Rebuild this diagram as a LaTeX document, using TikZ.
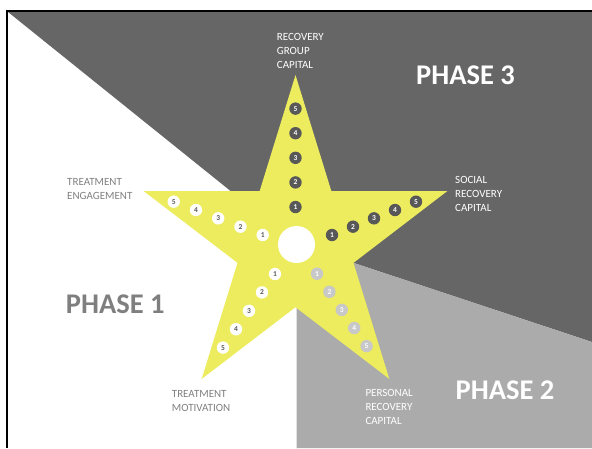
\documentclass[tikz,border=0pt]{standalone}
\usepackage{fontspec}
\setmainfont{Carlito}
\definecolor{phasedark}{RGB}{102,102,102}
\definecolor{phaselight}{RGB}{171,171,171}
\definecolor{staryellow}{RGB}{236,236,94}
\definecolor{dotdark}{RGB}{88,88,88}
\definecolor{dotlight}{RGB}{200,200,200}
\definecolor{textgray}{RGB}{127,127,127}
\definecolor{numgray}{RGB}{89,89,89}

\begin{document}
\begin{tikzpicture}[
    x = 1pt,
    y = -1pt,
    dot/.style = {circle, inner sep=0pt, minimum size=12.4pt,
      font=\fontsize{7.5}{7.5}\selectfont\bfseries},
    whitedot/.style = {dot, fill=white, text=numgray},
    darkdot/.style = {dot, fill=dotdark, text=white},
    lightdot/.style = {dot, fill=dotlight, text=white},
    armtext/.style = {anchor=base west, align=left, inner sep=0pt,
      font=\fontsize{11}{14}\selectfont},
    phasetext/.style = {anchor=base west, inner sep=0pt,
      font=\fontsize{28.5}{28.5}\selectfont\bfseries},
    ]
    \useasboundingbox (0,0) rectangle (592,448);
    % phase areas
    \coordinate (mid) at (296.5,244);
    \fill[phasedark] (8,12) -- (592,12) -- (592,342) -- (mid) -- cycle;
    \fill[phaselight] (mid) -- (592,342) -- (592,448) -- (296.5,448) -- cycle;
    % frame
    \draw[line width=2pt] (7,448) -- (7,11) -- (592,11);
    % star
    \fill[staryellow] (295.5,75)
    \foreach \a/\r in {126/64.2, 162/168, 198/64.2, 234/168, 270/64.2,
      306/168, 342/64.2, 18/168, 54/64.2}
    { -- ({295.5+0.95*\r*cos(\a)}, {243-\r*sin(\a)}) } -- cycle;
    \node[circle, fill=white, minimum size=37pt, inner sep=0pt] (hub)
    at (296.5,244.5) {};
    % numbered dots
    \foreach \n in {1,...,5}
    \node[darkdot] (group\n) at (295.5, {207-24.6*(\n-1)}) {\n};
    \foreach \n in {1,...,5}
    \node[darkdot] (social\n) at ({332+21*(\n-1)}, {235-8.33*(\n-1)}) {\n};
    \foreach \n in {1,...,5}
    \node[whitedot] (engage\n) at ({262.7-22.25*(\n-1)}, {235-8.33*(\n-1)}) {\n};
    \foreach \n in {1,...,5}
    \node[whitedot] (motive\n) at ({275-13*(\n-1)}, {274+18.4*(\n-1)}) {\n};
    \foreach \n in {1,...,5}
    \node[lightdot] (personal\n) at ({317+12.4*(\n-1)}, {273.7+18.1*(\n-1)}) {\n};
    % arm labels (base = last line)
    \node[armtext, text=white] (grouptxt) at (276.7,68)
    {RECOVERY\\GROUP\\CAPITAL};
    \node[armtext, text=white] (socialtxt) at (455,211.3)
    {SOCIAL\\RECOVERY\\CAPITAL};
    \node[armtext, text=textgray] (engagetxt) at (67,199)
    {TREATMENT\\ENGAGEMENT};
    \node[armtext, text=textgray] (motivetxt) at (171.7,411.7)
    {TREATMENT\\MOTIVATION};
    \node[armtext, text=white] (personaltxt) at (365.3,424)
    {PERSONAL\\RECOVERY\\CAPITAL};
    % phase titles
    \node[phasetext, text=white] (phase3) at (416,84.3) {PHASE 3};
    \node[phasetext, text=textgray] (phase1) at (65.7,313.5) {PHASE 1};
    \node[phasetext, text=white] (phase2) at (455.5,399) {PHASE 2};
\end{tikzpicture}
\end{document}
